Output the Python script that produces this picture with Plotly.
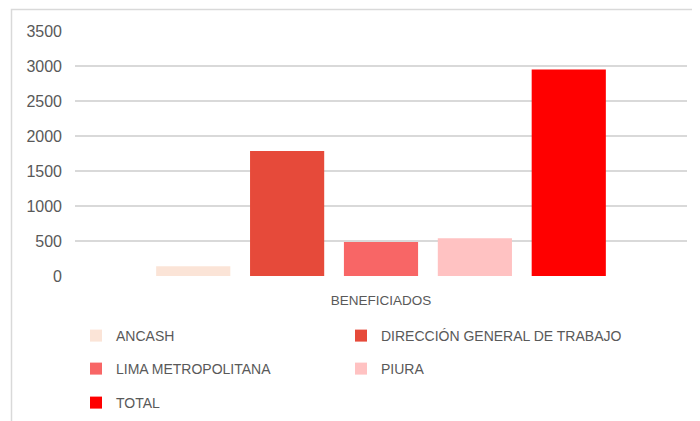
import plotly.graph_objects as go

category = ["BENEFICIADOS"]
series_names = ["ANCASH", "DIRECCIÓN GENERAL DE TRABAJO", "LIMA METROPOLITANA", "PIURA", "TOTAL"]
series_values = [140, 1786, 486, 538, 2950]
series_colors = ["#FBE4D7", "#E64A3A", "#F86666", "#FFC2C2", "#FF0000"]
y_ticks = [0, 500, 1000, 1500, 2000, 2500, 3000, 3500]

# page body has an 8px margin; compensate so the chart lands where the reference has it
OFF = 8
W, H = 700, 421
L, R, T, B = 67, 21, 23, 153
pw, ph = W - L - R, H - T - B

def px(x):
    return (x - OFF - L) / pw

def py(y):
    return (H - B - (y - OFF)) / ph

# legend slot positions (text start x, row centre y) in screen pixels
legend_slots = [(116.5, 336), (381.5, 336), (116.5, 369), (381.5, 369), (116.5, 403)]
legend_ids = ["legend", "legend2", "legend3", "legend4", "legend5"]

fig = go.Figure()
for name, val, col, lg in zip(series_names, series_values, series_colors, legend_ids):
    fig.add_trace(go.Bar(x=category, y=[val], name=name, marker_color=col,
                         marker_line_width=0, legend=lg, showlegend=True))

font_family = "Liberation Sans, Arial, sans-serif"
text_color = "#595959"

legend_common = dict(orientation="v", xanchor="left", yanchor="middle",
                     font=dict(family=font_family, size=14, color=text_color),
                     bgcolor="rgba(0,0,0,0)", visible=True)

legends = {}
for lg, (tx, ty) in zip(legend_ids, legend_slots):
    legends[lg] = dict(x=px(tx - 40.5), y=py(ty), **legend_common)

fig.update_layout(
    width=W, height=H,
    showlegend=True,
    margin=dict(l=L, r=R, t=T, b=B, autoexpand=False),
    paper_bgcolor="white", plot_bgcolor="white",
    barmode="group", bargap=0.233, bargroupgap=0.21,
    font=dict(family=font_family, color=text_color),
    xaxis=dict(showgrid=False, showline=False, zeroline=False, ticks="",
               tickfont=dict(size=13.5, color=text_color), ticklabelstandoff=14),
    yaxis=dict(range=[0, 3500], tickvals=y_ticks, showgrid=True,
               gridcolor="#D9D9D9", gridwidth=1.5, zeroline=False, showline=False,
               tickfont=dict(size=16, color=text_color), ticklabelstandoff=12),
    shapes=[dict(type="rect", xref="paper", yref="paper",
                 x0=px(11.5), x1=px(715), y0=py(435), y1=py(9.5),
                 line=dict(color="#D9D9D9", width=1.5), layer="below")],
    **legends,
)

fig.write_html("out.html")
